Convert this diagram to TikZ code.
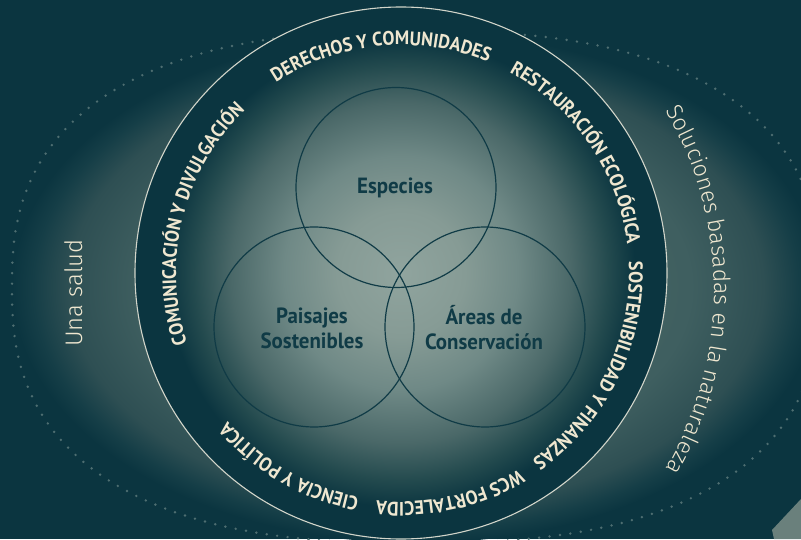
\documentclass[tikz,border=0pt]{standalone}
\usepackage{fontspec}
\usetikzlibrary{decorations.text}
\newfontfamily\ptsans{PT Sans}[FakeStretch=0.92]
\newfontfamily\ptvenn{PT Sans}[FakeStretch=0.95]
\newfontfamily\lightf{Fira Sans Light}
\definecolor{bg}{HTML}{0B3540}
\definecolor{og0}{HTML}{4A6967}
\definecolor{og1}{HTML}{3F5F60}
\definecolor{og2}{HTML}{2E4F53}
\definecolor{og3}{HTML}{153E47}
\definecolor{ig0}{HTML}{90A49E}
\definecolor{ig1}{HTML}{869B95}
\definecolor{ig2}{HTML}{6F8986}
\definecolor{ig3}{HTML}{4A6868}
\definecolor{ig4}{HTML}{234A4E}
\definecolor{cream}{HTML}{EFE7D0}
\definecolor{ringcol}{HTML}{D2D5CA}
\definecolor{venncol}{HTML}{103B46}
\definecolor{dotcol}{HTML}{4E6E71}
\definecolor{cornercol}{HTML}{6A807C}
\pgfdeclareradialshading{outerglow}{\pgfpoint{0bp}{0bp}}{color(0bp)=(og0); color(17bp)=(og1); color(21.5bp)=(og2); color(23.7bp)=(og3); color(25bp)=(bg); color(50bp)=(bg)}
\pgfdeclareradialshading{innerglow}{\pgfpoint{0bp}{0bp}}{color(0bp)=(ig0); color(6bp)=(ig1); color(11bp)=(ig2); color(16bp)=(ig3); color(19.5bp)=(ig4); color(22bp)=(bg); color(50bp)=(bg)}
\newcommand\mycapfont{\ptsans\bfseries\fontsize{19.5}{19.5}\selectfont}
\tikzset{
  venn/.style={circle, draw=venncol, line width=1.2pt, minimum size=200pt, inner sep=0pt},
  vlabel/.style={text=venncol, font=\ptvenn\bfseries\fontsize{22}{25}\selectfont, align=center, inner sep=0pt},
  lighttext/.style={text=cream, font=\lightf\fontsize{24}{24}\selectfont, inner sep=0pt},
}
\begin{document}
\begin{tikzpicture}[x=1pt,y=1pt]
\useasboundingbox (0,0) rectangle (801,539);
\fill[bg] (0,0) rectangle (801,539);
% outer glow
\shade[shading=outerglow] (416,252) ellipse [x radius=404pt, y radius=256pt];
% dotted superellipse
\draw[dotcol, line width=2.7pt, line cap=round, dash pattern=on 0pt off 10.5pt]
  plot[domain=0.5:360.5, samples=181, smooth]
  ({416+404*sign(cos(\x))*abs(cos(\x))^0.8}, {252+256*sign(sin(\x))*abs(sin(\x))^0.8});
% main circle
\shade[shading=innerglow] (401,266) circle [radius=266pt];
\node[circle, draw=ringcol, line width=1.1pt, minimum size=532pt, inner sep=0pt] (ring) at (401,266) {};
% venn circles
\node[venn] (esp) at (396,351.5) {};
\node[venn] (pai) at (314,212) {};
\node[venn] (are) at (485,212) {};
\node[vlabel] (tesp) at (395,351) {Especies};
\node[vlabel] (tpai) at (312,211) {Paisajes\\Sostenibles};
\node[vlabel] (tare) at (484,211) {Áreas de\\Conservación};
% curved labels
\foreach \c/\r/\t in {95.4/228/{DERECHOS Y COMUNIDADES}, 34.4/228/{RESTAURACIÓN ECOLÓGICA}, -26/228/{SOSTENIBILIDAD Y FINANZAS}, -77.5/229/{WCS FORTALECIDA}, -120/228/{CIENCIA Y POLÍTICA}, 166/225/{COMUNICACIÓN Y DIVULGACIÓN}}{
  \path[decorate, decoration={text along path, text align=center, text color=cream, text/.expand once=|\mycapfont|\t}]
    (ring.center) ++(\c+45:\r pt) arc[start angle=\c+45, end angle=\c-45, radius=\r pt];
}
% outer texts
\coordinate (solc) at (356,249);
\path[decorate, decoration={text along path, text align=center, text color=cream, text={|\lightf\fontsize{23}{23}\selectfont|Soluciones basadas en la naturaleza}}]
  (solc) ++(62:358pt) arc[start angle=62, end angle=-62, radius=358pt];
\node[lighttext, rotate=90] (una) at (74,246) {Una salud};
% corner shape
\fill[cornercol] (801,40) -- (772,9) -- (774,0) -- (801,0) -- cycle;
\end{tikzpicture}
\end{document}
